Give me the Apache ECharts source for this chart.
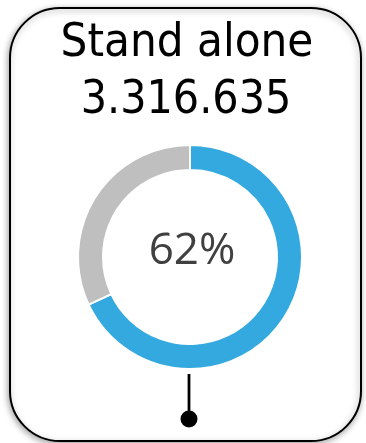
<!DOCTYPE html>
<html>
<head>
<meta charset="utf-8">
<script src="https://cdn.jsdelivr.net/npm/echarts@6/dist/echarts.min.js"></script>
<style>
html,body{margin:0;padding:0;background:#fff;}
#main{width:366px;height:443px;}
</style>
</head>
<body>
<div id="main"></div>
<script>
const titleLines = ["Stand alone", "3.316.635"];
const categories = ["Stand alone", "Other"];
const values = [68, 32];
const centerLabel = "62%";
const colors = ["#33a9df", "#bfbfbf"];

const chart = echarts.init(document.getElementById('main'), null, {renderer: 'canvas'});
const font = '"DejaVu Sans Condensed", "DejaVu Sans", sans-serif';
chart.setOption({
  animation: false,
  backgroundColor: '#ffffff',
  graphic: [
    {
      type: 'rect', z: 0,
      shape: {x: 10, y: 8, width: 351, height: 433, r: 50},
      style: {fill: '#ffffff', stroke: '#000000', lineWidth: 2,
        shadowBlur: 6, shadowColor: 'rgba(0,0,0,0.35)', shadowOffsetX: -1, shadowOffsetY: 2}
    },
    {
      type: 'text', z: 10,
      style: {text: titleLines[0], x: 187, y: 67, textAlign: 'center', textVerticalAlign: 'bottom',
        font: '47px ' + font, fill: '#000000'}
    },
    {
      type: 'text', z: 10,
      style: {text: titleLines[1], x: 186, y: 124, textAlign: 'center', textVerticalAlign: 'bottom',
        font: '46px ' + font, fill: '#000000'}
    },
    {
      type: 'text', z: 10,
      style: {text: centerLabel, x: 192, y: 251, textAlign: 'center', textVerticalAlign: 'middle',
        font: '44px "Open Sans", ' + font, fill: '#404040'}
    },
    {
      type: 'line', z: 10,
      shape: {x1: 189, y1: 374, x2: 189, y2: 416},
      style: {stroke: '#000000', lineWidth: 2.8}
    },
    {
      type: 'circle', z: 10,
      shape: {cx: 189, cy: 419, r: 8.5},
      style: {fill: '#000000'}
    }
  ],
  series: [{
    type: 'pie',
    z: 5,
    center: [190, 257],
    radius: [87, 112],
    startAngle: 90,
    clockwise: true,
    silent: true,
    label: {show: false},
    labelLine: {show: false},
    itemStyle: {borderColor: '#ffffff', borderWidth: 2},
    data: categories.map((c, i) => ({name: c, value: values[i], itemStyle: {color: colors[i]}}))
  }]
});
</script>
</body>
</html>
